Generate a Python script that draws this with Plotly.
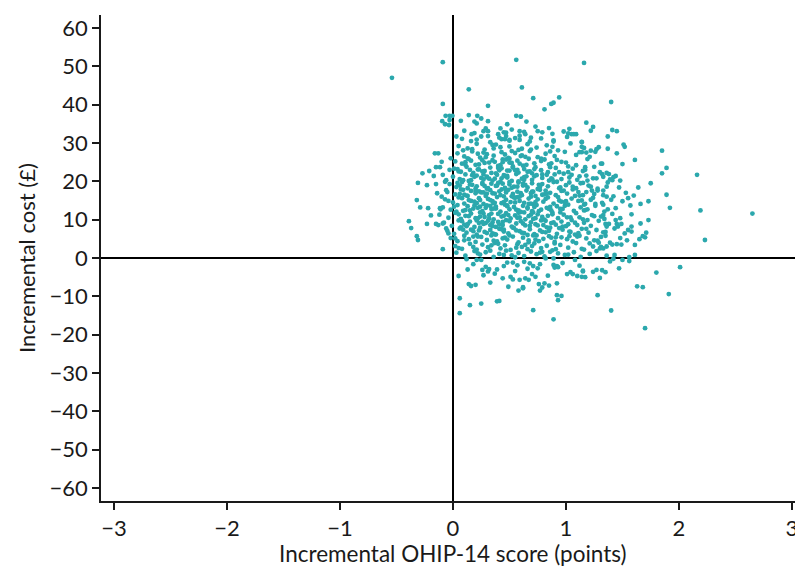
import plotly.graph_objects as go

# ---- Data (incremental effect in OHIP-14 points, incremental cost in GBP) ----
# Sparse / outer points, read individually
outer_effect = [-0.54, -0.09, 0.56, 1.16, 0.14, 0.61, -0.09, 0.31, 0.71, 0.94, 0.87, 0.89, 0.81, 1.40, 0.60,
                1.18, 1.24, 1.22, 1.41, 1.45, 1.37, 1.51, 1.52, 1.45, 1.37, 1.85, 1.61, 1.50, 1.89, 1.85,
                1.75, 1.64, 2.16, 1.89, 1.73, 1.66, 1.92, 2.19, 2.65, 1.73, 1.66, 1.71, 1.68, 1.70, 2.23,
                1.65, 1.54, 1.58, 1.58, 1.55, 1.58, 1.57, 1.48, 1.44, 1.45, 1.49, 1.61, 1.61, 1.56, 1.43]
outer_cost = [47.0, 51.1, 51.7, 50.9, 44.0, 44.5, 40.2, 39.7, 41.7, 41.9, 40.2, 40.5, 38.8, 40.7, 36.9,
              35.3, 34.2, 33.2, 33.4, 33.1, 31.7, 29.6, 29.0, 27.3, 28.5, 28.0, 25.6, 24.5, 23.5, 22.1,
              19.5, 18.4, 21.7, 16.5, 14.8, 14.1, 13.1, 12.4, 11.6, 9.9, 9.0, 6.6, 5.7, 5.4, 4.7,
              4.9, 4.6, 8.2, 6.9, 7.3, 11.4, 13.7, 10.4, 9.9, 8.9, 8.9, 3.4, 0.8, 0.2, 0.8]

# Right flank of the cloud
flank_effect = [1.29, 1.27, 1.26, 1.22, 1.18, 1.14, 1.12, 1.14, 1.14, 1.05, 1.09, 1.32, 1.17, 1.17, 1.30,
                1.32, 1.33, 1.44, 1.42, 1.39, 1.41, 1.48, 1.24, 1.36, 1.28, 1.22, 1.23, 1.15, 1.33, 1.36,
                1.60, 1.55, 1.26, 1.49, 1.41, 1.36, 1.30, 1.31, 1.28, 1.29, 1.21, 1.33, 1.34, 1.35, 1.36,
                1.33, 1.35, 1.37, 1.33]
flank_cost = [28.9, 28.4, 27.7, 28.0, 27.5, 27.6, 27.6, 30.2, 29.0, 32.3, 32.3, 24.6, 23.7, 23.0, 22.4,
              21.9, 21.2, 21.4, 21.1, 20.5, 20.3, 20.2, 20.8, 18.6, 17.6, 18.6, 17.6, 19.6, 16.4, 16.0,
              16.3, 15.6, 14.1, 3.5, 3.5, 3.0, 2.5, 2.9, 4.5, 4.0, 3.8, 11.2, 10.2, 8.9, 8.2,
              6.7, 5.8, 12.7, 13.9]

# Top of the cloud
top_effect = [0.14, 0.215, 0.25, 0.19, 0.21, 0.31, 0.48, 0.56, 0.60, 0.65, 0.27, 0.31, 0.31, 0.165, 0.42,
              0.47, 0.47, 0.43, 0.46, 0.59, 0.64, 0.69, 0.73, 0.79, 0.85, 0.89, 0.98, 1.02, 1.07, 0.59,
              0.50, 0.07, 0.03]
top_cost = [37.3, 37.1, 36.4, 35.6, 35.1, 35.7, 34.9, 37.1, 36.9, 35.6, 33.1, 33.1, 31.8, 32.3, 33.8,
            32.7, 31.8, 31.0, 31.0, 33.1, 32.3, 31.4, 34.3, 32.8, 33.9, 30.4, 33.0, 32.5, 32.3, 30.8,
            30.6, 35.8, 31.7]

# Left of the vertical axis
left_effect = [-0.065, -0.03, -0.005, -0.095, -0.07, -0.03, -0.035, -0.16, -0.13, -0.02, -0.10, -0.15, -0.115,
               -0.21, -0.27, -0.03, -0.09, -0.06, -0.07, -0.17, -0.31, -0.23, -0.15, -0.14, -0.10, -0.06,
               -0.04, -0.32, -0.29, -0.22, -0.115, -0.39, -0.37, -0.32, -0.31, -0.23, -0.195, -0.15, -0.13,
               -0.09, -0.06, -0.04, -0.09, -0.11]
left_cost = [37.1, 37.1, 37.1, 35.7, 34.9, 36.0, 34.7, 27.3, 27.3, 26.0, 25.1, 23.7, 23.7,
             22.7, 22.1, 23.0, 21.7, 20.3, 19.9, 21.4, 19.6, 19.0, 19.3, 16.9, 16.0, 17.7,
             14.9, 15.1, 13.2, 13.0, 13.0, 9.6, 7.8, 5.7, 4.7, 8.9, 11.1, 8.9, 8.6,
             9.0, 7.7, 6.4, 2.3, 12.7]

# Below zero cost
neg_effect = [2.01, 1.80, 1.68, 1.91, 1.70, 1.63, 1.28, 1.40, 1.47, 1.15, 1.24, 1.27, 1.32, 1.35, 1.14,
              1.17, 1.04, 1.06, 1.56, 1.50, 1.42, 1.39, 0.12, 0.21, 0.25, 0.13, 0.05, 0.26, 0.31, 0.32,
              0.39, 0.45, 0.48, 0.53, 0.57, 0.63, 0.68, 0.71, 0.75, 0.82, 0.89, 0.92, 1.01, 1.10, 1.08,
              0.27, 0.33, 0.14, 0.16, 0.20, 0.51, 0.53, 0.59, 0.64, 0.70, 0.73, 0.49, 0.58, 0.62, 0.76,
              0.81, 0.85, 0.77, 0.79, 0.92, 0.92, 0.96, 0.93, 0.06, 0.15, 0.25, 0.39, 0.41, 0.06, 0.71,
              0.89, 0.77, 0.89, 0.90, 0.93, 1.15, 0.62, 0.67]
neg_cost = [-2.4, -3.8, -7.6, -9.4, -18.3, -7.4, -9.7, -13.7, -2.7, -3.5, -3.6, -3.1, -3.2, -3.7, -4.9,
            -5.0, -3.7, -4.2, -0.8, -0.5, -0.2, -0.9, -0.3, -0.5, -0.5, -3.0, -4.7, -3.1, -3.5, -2.9,
            -3.0, -2.1, -1.2, -1.2, -1.9, -1.0, -1.4, -2.1, -2.7, -0.1, -0.1, -2.1, -4.2, -4.7, -0.5,
            -4.5, -6.4, -6.8, -7.3, -7.0, -4.9, -5.6, -5.7, -5.3, -4.2, -4.9, -7.5, -8.5, -7.9, -6.8,
            -6.6, -7.2, -8.5, -7.7, -6.6, -9.7, -9.9, -11.0, -10.5, -12.3, -11.9, -11.3, -11.2, -14.4, -13.6,
            -16.0, -1.6, -1.8, -2.5, -2.4, -3.3, -7.6, -5.7]

# Dense core, estimated band by band (cost bands of 2 GBP)
core_effect_00 = [0.03, 0.11, 0.19, 0.24, 0.29, 0.36, 0.41, 0.47, 0.52, 0.58, 0.63, 0.69, 0.74, 0.81, 0.86, 0.93, 0.99, 1.07, 1.13, 1.21, 1.27, 1.36, 0.33, 0.55, 0.77]
core_cost_00 = [1.4, 0.6, 1.8, 0.9, 1.5, 0.3, 1.1, 1.9, 0.7, 1.3, 0.5, 1.7, 1.0, 0.4, 1.6, 1.2, 0.8, 1.5, 0.3, 1.1, 1.8, 0.6, 1.9, 0.2, 1.4]
core_effect_02 = [0.02, 0.08, 0.15, 0.21, 0.26, 0.31, 0.37, 0.42, 0.46, 0.51, 0.57, 0.61, 0.66, 0.72, 0.78, 0.83, 0.88, 0.95, 1.02, 1.09, 1.16, 1.24, 1.33, 1.45, 0.18, 0.40, 0.64, 0.91, 0.05, 0.70]
core_cost_02 = [3.1, 2.4, 3.7, 2.2, 3.5, 2.8, 3.9, 2.5, 3.3, 2.1, 3.6, 2.9, 2.3, 3.8, 2.6, 3.2, 2.0, 3.4, 2.7, 3.9, 2.2, 3.0, 2.5, 3.6, 2.9, 3.7, 3.4, 2.3, 2.6, 3.1]
core_effect_04 = [-0.02, 0.04, 0.10, 0.14, 0.20, 0.25, 0.30, 0.34, 0.39, 0.44, 0.48, 0.53, 0.58, 0.62, 0.67, 0.71, 0.76, 0.80, 0.85, 0.90, 0.96, 1.01, 1.06, 1.12, 1.18, 1.25, 1.31, 1.39, 1.48, 0.22, 0.36, 0.50, 0.73, 0.87, 1.03]
core_cost_04 = [5.2, 4.4, 5.8, 4.9, 4.2, 5.5, 4.7, 5.9, 4.3, 5.1, 4.8, 5.6, 4.1, 5.3, 4.6, 5.9, 4.4, 5.0, 5.7, 4.2, 5.4, 4.9, 4.3, 5.8, 5.1, 4.6, 5.5, 4.0, 5.2, 5.6, 4.5, 5.9, 4.8, 5.3, 5.7]
core_effect_06 = [-0.05, 0.01, 0.06, 0.12, 0.16, 0.21, 0.24, 0.28, 0.33, 0.37, 0.41, 0.45, 0.49, 0.54, 0.59, 0.63, 0.68, 0.72, 0.77, 0.82, 0.86, 0.92, 0.97, 1.03, 1.08, 1.14, 1.20, 1.27, 1.35, 1.43, 1.52, 0.18, 0.30, 0.43, 0.56, 0.66, 0.79, 0.94, 1.11, 0.09]
core_cost_06 = [7.1, 6.3, 7.7, 6.6, 7.4, 6.1, 7.9, 6.8, 7.3, 6.2, 7.6, 6.9, 6.4, 7.8, 7.0, 6.5, 7.5, 6.2, 7.2, 6.7, 7.9, 6.3, 7.4, 6.9, 6.1, 7.6, 6.6, 7.3, 6.8, 7.7, 6.4, 7.0, 6.5, 7.5, 7.2, 6.0, 6.8, 7.8, 6.5, 7.4]
core_effect_08 = [-0.08, -0.01, 0.05, 0.10, 0.15, 0.19, 0.23, 0.27, 0.31, 0.35, 0.40, 0.44, 0.47, 0.52, 0.56, 0.60, 0.64, 0.69, 0.73, 0.78, 0.83, 0.87, 0.91, 0.96, 1.00, 1.05, 1.10, 1.16, 1.22, 1.29, 1.38, 1.46, 0.13, 0.26, 0.38, 0.50, 0.62, 0.75, 0.89, 1.02, 1.19, 0.33]
core_cost_08 = [9.2, 8.4, 9.8, 8.7, 9.5, 8.1, 9.1, 8.9, 9.7, 8.3, 9.4, 8.6, 9.9, 8.2, 9.0, 9.6, 8.5, 9.3, 8.8, 9.8, 8.0, 9.1, 8.7, 9.5, 8.3, 9.9, 8.6, 9.2, 8.4, 9.7, 8.9, 8.2, 8.8, 9.4, 8.1, 9.6, 9.0, 8.5, 9.3, 8.8, 9.9, 8.6]
core_effect_10 = [-0.12, -0.04, 0.02, 0.07, 0.11, 0.16, 0.20, 0.24, 0.28, 0.32, 0.36, 0.40, 0.43, 0.47, 0.51, 0.55, 0.59, 0.63, 0.67, 0.71, 0.75, 0.79, 0.84, 0.88, 0.93, 0.98, 1.04, 1.09, 1.15, 1.23, 1.31, 1.41, 0.14, 0.22, 0.34, 0.45, 0.57, 0.69, 0.81, 0.95, 1.12, 0.05]
core_cost_10 = [11.3, 10.5, 11.8, 10.2, 11.0, 11.6, 10.4, 11.9, 10.7, 11.2, 10.1, 11.5, 10.8, 11.7, 10.3, 11.1, 10.6, 11.9, 10.9, 10.2, 11.4, 10.7, 11.0, 11.8, 10.4, 11.3, 10.6, 11.7, 10.1, 11.2, 10.8, 11.5, 10.9, 10.3, 11.6, 11.0, 10.5, 11.3, 10.0, 11.9, 10.6, 11.4]
core_effect_12 = [-0.09, -0.02, 0.04, 0.09, 0.13, 0.18, 0.22, 0.26, 0.30, 0.34, 0.38, 0.42, 0.46, 0.50, 0.54, 0.58, 0.62, 0.66, 0.70, 0.74, 0.78, 0.83, 0.87, 0.92, 0.97, 1.02, 1.07, 1.13, 1.19, 1.26, 1.34, 1.44, 0.11, 0.24, 0.36, 0.48, 0.60, 0.72, 0.85, 0.99, 1.16, 0.29]
core_cost_12 = [13.2, 12.6, 13.8, 12.3, 13.5, 12.9, 13.1, 12.2, 13.7, 12.8, 13.4, 12.1, 13.9, 12.7, 13.3, 12.4, 13.6, 12.9, 12.2, 13.8, 12.6, 13.1, 12.4, 13.5, 12.8, 13.9, 12.3, 13.2, 12.7, 13.6, 12.1, 13.0, 12.5, 13.4, 12.9, 13.7, 12.0, 13.3, 12.8, 13.6, 12.4, 13.1]
core_effect_14 = [-0.07, 0.00, 0.05, 0.10, 0.14, 0.19, 0.23, 0.27, 0.31, 0.35, 0.39, 0.43, 0.47, 0.51, 0.55, 0.59, 0.63, 0.67, 0.71, 0.75, 0.80, 0.84, 0.89, 0.94, 0.99, 1.05, 1.11, 1.17, 1.24, 1.32, 1.40, 1.50, 0.08, 0.21, 0.33, 0.45, 0.57, 0.69, 0.82, 0.96, 1.14, 0.37]
core_cost_14 = [15.3, 14.5, 15.8, 14.2, 15.1, 14.7, 15.6, 14.1, 15.4, 14.8, 15.9, 14.3, 15.2, 14.6, 15.7, 14.9, 14.4, 15.5, 14.0, 15.3, 14.7, 15.8, 14.2, 15.0, 14.6, 15.5, 14.9, 14.1, 15.7, 14.4, 15.2, 14.8, 15.6, 14.3, 15.1, 14.6, 15.9, 14.2, 15.4, 14.7, 15.0, 14.4]
core_effect_16 = [-0.05, 0.02, 0.07, 0.12, 0.16, 0.20, 0.25, 0.29, 0.33, 0.37, 0.41, 0.45, 0.49, 0.53, 0.57, 0.61, 0.65, 0.69, 0.73, 0.77, 0.81, 0.86, 0.91, 0.96, 1.01, 1.06, 1.12, 1.18, 1.25, 1.33, 1.42, 1.53, 0.10, 0.23, 0.35, 0.47, 0.59, 0.71, 0.83, 0.98, 1.15, 0.27]
core_cost_16 = [17.2, 16.6, 17.9, 16.3, 17.5, 16.9, 17.1, 16.2, 17.7, 16.8, 17.4, 16.1, 17.8, 16.7, 17.3, 16.4, 17.6, 16.9, 16.2, 17.8, 16.6, 17.0, 16.4, 17.5, 16.8, 17.9, 16.3, 17.2, 16.7, 17.6, 16.1, 17.0, 16.5, 17.4, 16.9, 17.7, 16.0, 17.3, 16.8, 17.6, 16.4, 17.1]
core_effect_18 = [-0.03, 0.03, 0.08, 0.13, 0.17, 0.21, 0.26, 0.30, 0.34, 0.38, 0.42, 0.46, 0.50, 0.54, 0.58, 0.62, 0.66, 0.70, 0.75, 0.79, 0.84, 0.89, 0.94, 1.00, 1.06, 1.13, 1.20, 1.28, 1.37, 1.47, 0.15, 0.28, 0.40, 0.52, 0.64, 0.77, 0.92, 1.09, 0.06, 0.44]
core_cost_18 = [19.3, 18.5, 19.8, 18.2, 19.1, 18.7, 19.6, 18.1, 19.4, 18.8, 19.9, 18.3, 19.2, 18.6, 19.7, 18.9, 18.4, 19.5, 18.0, 19.3, 18.7, 19.8, 18.2, 19.0, 18.6, 19.5, 18.9, 18.1, 19.7, 18.4, 19.2, 18.8, 19.6, 18.3, 19.1, 18.6, 19.9, 18.2, 18.9, 19.4]
core_effect_20 = [0.00, 0.06, 0.11, 0.16, 0.21, 0.25, 0.30, 0.35, 0.39, 0.43, 0.48, 0.52, 0.56, 0.61, 0.65, 0.70, 0.74, 0.79, 0.85, 0.90, 0.96, 1.03, 1.10, 1.18, 1.27, 1.38, 0.09, 0.19, 0.32, 0.45, 0.58, 0.72, 0.87, 1.05, 0.27, 0.63]
core_cost_20 = [21.2, 20.6, 21.8, 20.3, 21.5, 20.9, 21.1, 20.2, 21.7, 20.8, 21.4, 20.1, 21.9, 20.7, 21.3, 20.4, 21.6, 20.9, 20.2, 21.8, 20.6, 21.0, 20.4, 21.5, 20.8, 21.9, 20.3, 21.2, 20.7, 21.6, 20.0, 21.3, 20.8, 21.7, 20.5, 21.1]
core_effect_22 = [0.01, 0.07, 0.12, 0.18, 0.23, 0.28, 0.33, 0.38, 0.43, 0.48, 0.53, 0.58, 0.63, 0.68, 0.73, 0.78, 0.84, 0.91, 0.98, 1.06, 1.15, 1.25, 1.36, 0.15, 0.26, 0.40, 0.55, 0.70, 0.86, 1.02, 0.04, 0.50]
core_cost_22 = [23.3, 22.5, 23.8, 22.2, 23.1, 22.7, 23.6, 22.1, 23.4, 22.8, 23.9, 22.3, 23.2, 22.6, 23.7, 22.9, 22.4, 23.5, 22.0, 23.3, 22.7, 23.8, 22.2, 23.0, 22.6, 23.5, 22.9, 22.1, 23.7, 22.4, 23.2, 22.8]
core_effect_24 = [0.02, 0.08, 0.14, 0.20, 0.26, 0.32, 0.37, 0.42, 0.47, 0.52, 0.57, 0.62, 0.67, 0.72, 0.78, 0.85, 0.92, 1.00, 1.09, 1.19, 1.31, 0.11, 0.23, 0.35, 0.50, 0.65, 0.81, 0.96]
core_cost_24 = [25.2, 24.6, 25.8, 24.3, 25.5, 24.9, 25.1, 24.2, 25.7, 24.8, 25.4, 24.1, 25.9, 24.7, 25.3, 24.4, 25.6, 24.9, 24.2, 25.8, 24.6, 25.0, 24.4, 25.5, 24.9, 24.3, 25.7, 25.1]
core_effect_26 = [0.04, 0.10, 0.17, 0.24, 0.30, 0.36, 0.43, 0.49, 0.55, 0.61, 0.68, 0.75, 0.82, 0.90, 0.99, 1.09, 1.21, 0.13, 0.27, 0.46, 0.64, 0.86]
core_cost_26 = [27.3, 26.5, 27.8, 26.2, 27.1, 26.7, 27.6, 26.1, 27.4, 26.8, 27.9, 26.3, 27.2, 26.6, 27.7, 26.9, 26.4, 26.0, 27.5, 27.0, 26.4, 27.8]
core_effect_28 = [0.05, 0.13, 0.21, 0.28, 0.35, 0.42, 0.50, 0.58, 0.66, 0.74, 0.83, 0.93, 1.04, 1.16, 0.17, 0.38, 0.61, 0.88]
core_cost_28 = [29.2, 28.6, 29.8, 28.3, 29.5, 28.9, 29.1, 28.2, 29.7, 28.8, 29.4, 28.1, 29.9, 28.7, 28.4, 29.6, 28.5, 29.0]
core_effect_30 = [0.08, 0.16, 0.25, 0.33, 0.41, 0.50, 0.59, 0.68, 0.78, 0.89, 1.01, 1.14, 0.21, 0.55]
core_cost_30 = [31.1, 30.5, 31.7, 30.2, 31.4, 30.8, 31.9, 30.4, 31.2, 30.7, 31.6, 30.3, 30.9, 31.3]
core_effect_32 = [0.10, 0.19, 0.29, 0.40, 0.52, 0.63, 0.75, 0.88, 1.03, 0.45]
core_cost_32 = [33.2, 32.6, 33.8, 32.3, 33.5, 32.9, 33.1, 32.4, 33.7, 32.8]

# Extra points filling the densest part of the cloud
dense_effect = [0.12, 0.18, 0.23, 0.29, 0.35, 0.41, 0.46, 0.53, 0.61, 0.68,
                0.15, 0.21, 0.27, 0.32, 0.38, 0.44, 0.49, 0.56, 0.64, 0.71,
                0.13, 0.19, 0.24, 0.30, 0.36, 0.42, 0.48, 0.54, 0.60, 0.67,
                0.14, 0.20, 0.26, 0.31, 0.37, 0.43, 0.50, 0.57, 0.63, 0.70,
                0.11, 0.17, 0.22, 0.28, 0.34, 0.40, 0.46, 0.53, 0.59, 0.66,
                0.09, 0.16, 0.22, 0.29, 0.36, 0.44, 0.52, 0.60, 0.69, 0.78,
                0.74, 0.80, 0.85, 0.91, 0.97, 1.04, 1.10, 1.18, 0.07, 0.02,
                0.76, 0.82, 0.88, 0.95, 1.01, 1.08, 1.17, 1.25, 0.08, 0.03,
                0.73, 0.79, 0.86, 0.93, 1.00, 1.08, 1.16, 1.22, 0.06, 0.01,
                0.76, 0.82, 0.88, 0.95, 1.03, 1.11, 1.19, 0.09, 0.04, 0.48,
                0.72, 0.79, 0.87, 0.94, 1.02, 1.12, 0.05, 0.30, 0.44, 0.57,
                0.10, 0.22, 0.34, 0.45, 0.56, 0.67, 0.79, 0.90, 1.02, 1.14,
                0.18, 0.29, 0.37, 0.44, 0.55, 0.66, 0.84, 0.97, 1.12, 1.30,
                0.24, 0.33, 0.39, 0.52, 0.58, 0.62, 0.45, 0.27, 0.35, 0.55,
                0.16, 0.41, 0.50, 0.66, 0.73, 0.83, 0.20, 0.38, 0.47, 0.69]
dense_cost = [8.3, 5.6, 7.2, 9.1, 6.4, 8.7, 5.3, 7.9, 6.6, 8.4,
              12.4, 9.8, 11.6, 10.3, 12.9, 9.4, 11.2, 12.6, 10.1, 11.9,
              16.2, 13.7, 15.1, 16.8, 14.3, 16.4, 13.5, 15.8, 16.9, 14.1,
              20.1, 17.5, 19.3, 18.2, 20.7, 17.9, 19.8, 18.6, 20.4, 17.3,
              24.3, 21.6, 23.1, 24.8, 22.2, 24.0, 21.4, 23.6, 24.6, 22.5,
              28.1, 25.4, 27.2, 26.3, 28.6, 25.7, 27.9, 26.6, 28.3, 25.9,
              5.9, 8.6, 7.1, 5.4, 8.2, 6.8, 5.6, 7.6, 8.0, 5.1,
              12.2, 9.7, 11.4, 12.8, 10.6, 9.2, 12.5, 10.9, 9.6, 12.1,
              14.6, 16.5, 13.3, 15.9, 14.8, 16.2, 13.9, 15.2, 16.7, 13.4,
              19.1, 17.6, 20.5, 18.4, 19.7, 17.2, 20.2, 17.8, 19.6, 21.0,
              23.2, 21.8, 24.7, 22.4, 23.9, 21.3, 22.6, 21.2, 25.0, 23.0,
              4.6, 1.2, 3.3, 0.8, 2.7, 4.1, 1.6, 3.8, 0.9, 2.4,
              -1.6, -2.3, -4.1, -5.3, -3.4, -2.8, -4.6, -1.3, -2.0, -5.2,
              10.8, 13.6, 18.9, 16.1, 11.8, 19.4, 7.4, 21.8, 9.3, 14.5,
              14.9, 22.9, 25.9, 13.2, 10.4, 21.7, 18.1, 6.1, 17.1, 16.0]

x_ticks = [-3, -2, -1, 0, 1, 2, 3]
y_ticks = [-60, -50, -40, -30, -20, -10, 0, 10, 20, 30, 40, 50, 60]
x_title = "Incremental OHIP-14 score (points)"
y_title = "Incremental cost (£)"

groups = [
    (outer_effect, outer_cost), (flank_effect, flank_cost), (top_effect, top_cost),
    (left_effect, left_cost), (neg_effect, neg_cost), (dense_effect, dense_cost),
    (core_effect_00, core_cost_00), (core_effect_02, core_cost_02), (core_effect_04, core_cost_04),
    (core_effect_06, core_cost_06), (core_effect_08, core_cost_08), (core_effect_10, core_cost_10),
    (core_effect_12, core_cost_12), (core_effect_14, core_cost_14), (core_effect_16, core_cost_16),
    (core_effect_18, core_cost_18), (core_effect_20, core_cost_20), (core_effect_22, core_cost_22),
    (core_effect_24, core_cost_24), (core_effect_26, core_cost_26), (core_effect_28, core_cost_28),
    (core_effect_30, core_cost_30), (core_effect_32, core_cost_32),
]
xs, ys = [], []
for ex, cy in groups:
    for a, b in zip(ex, cy):
        xs.append(a)
        ys.append(b)

TEAL = "#2ba8ad"
FONT = "Lato, 'Open Sans', sans-serif"
INK = "#1a1a1a"

fig = go.Figure()
fig.add_trace(go.Scatter(
    x=xs, y=ys, mode="markers",
    marker=dict(size=4.8, color=TEAL, line=dict(width=0)),
    hoverinfo="skip", showlegend=False,
))

axis_common = dict(
    ticks="outside", ticklen=7, tickwidth=1.5, tickcolor=INK,
    showgrid=False, showline=True, linecolor=INK, linewidth=1.6,
    zeroline=True, zerolinecolor="black", zerolinewidth=2,
    tickfont=dict(size=22, family=FONT, color=INK),
    ticklabeloverflow="allow", automargin=False,
)

fig.update_layout(
    width=795, height=566,
    margin=dict(l=101, r=0, t=15, b=65, autoexpand=False),
    paper_bgcolor="white", plot_bgcolor="white",
    font=dict(family=FONT, size=22, color=INK),
    showlegend=False,
    xaxis=dict(range=[-3.115, 3.027], tickvals=x_ticks, **axis_common),
    yaxis=dict(range=[-63.4, 63.4], tickvals=y_ticks, **axis_common),
    annotations=[
        dict(text=x_title, xref="paper", yref="paper", x=(453 - 101) / 694, y=0,
             xanchor="center", yanchor="top", yshift=-37, showarrow=False,
             font=dict(size=22.5, family=FONT, color=INK)),
        dict(text=y_title, xref="paper", yref="paper", x=(26 - 101) / 694, y=0.5,
             xanchor="center", yanchor="middle", textangle=-90, showarrow=False,
             font=dict(size=22, family=FONT, color=INK)),
    ],
)

fig.write_html("out.html")
